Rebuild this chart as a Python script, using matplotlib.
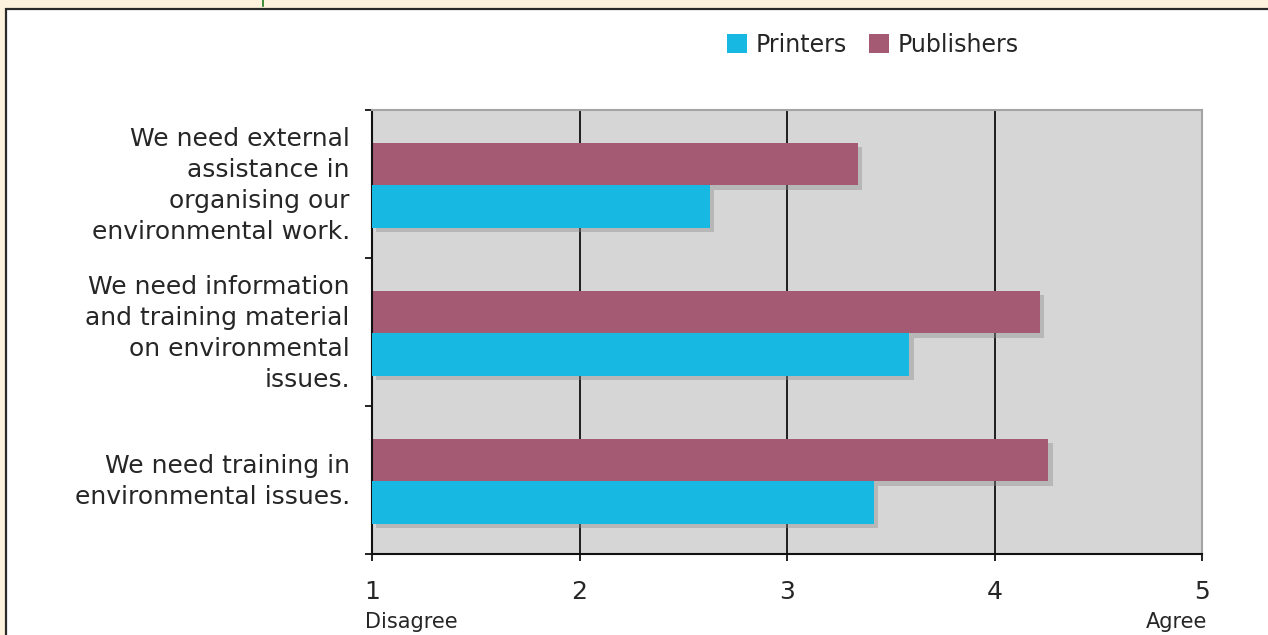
import numpy as np
import matplotlib
matplotlib.use("Agg")
import matplotlib.pyplot as plt
import matplotlib.patheffects as pe
import matplotlib.transforms as mtransforms
from matplotlib.patches import Rectangle, Patch
from matplotlib.lines import Line2D

plt.rcParams["font.family"] = ["DejaVu Sans"]

# Survey statements (top to bottom) and mean agreement scores
statements = [
    "We need external\nassistance in\norganising our\nenvironmental work.",
    "We need information\nand training material\non environmental\nissues.",
    "We need training in\nenvironmental issues.",
]
printers = [2.63, 3.59, 3.42]
publishers = [3.34, 4.22, 4.26]
series_names = ["Printers", "Publishers"]
scale_ticks = [1, 2, 3, 4, 5]
scale_ends = ["Disagree", "Agree"]

CYAN = "#17b8e2"
MAUVE = "#a55a74"
TEXT = "#262626"

W, H = 1268, 635
fig = plt.figure(figsize=(W / 100, H / 100), dpi=100, facecolor="#fdf2de")

# white panel with dark frame
fig.patches.append(Rectangle((6 / W, -0.2), 1.2, (H - 9) / H + 0.2,
                             transform=fig.transFigure, facecolor="white",
                             edgecolor="#2b2b2b", lw=1.6, zorder=-5))
fig.lines.append(Line2D([263 / W, 263 / W], [1, 1 - 6 / H],
                        transform=fig.transFigure, color="#1f7a1f", lw=1.2,
                        zorder=-4))

ax = fig.add_axes([372 / W, (H - 554) / H, (1202 - 372) / W, (554 - 110) / H])
ax.set_zorder(2)
ax.set_facecolor("#d6d6d6")

y = np.arange(len(statements)) + 0.5
h = 0.285
start = scale_ticks[0]

shadow = [pe.SimplePatchShadow(offset=(3, -3), shadow_rgbFace="#8a8a8a", alpha=0.4),
          pe.Normal()]

# inner vertical grid lines
for t in scale_ticks[1:-1]:
    ax.axvline(t, color="#1e1e1e", lw=1.4, zorder=1)

ax.barh(y - h / 2 + 0.01, np.array(publishers) - start, left=start, height=h,
        color=MAUVE, zorder=2, path_effects=shadow)
ax.barh(y + h / 2 + 0.01, np.array(printers) - start, left=start, height=h,
        color=CYAN, zorder=3, path_effects=shadow)

ax.set_xlim(scale_ticks[0], scale_ticks[-1])
ax.set_ylim(len(statements), 0)

# spines
for side in ("left", "bottom"):
    ax.spines[side].set_color("#111111")
    ax.spines[side].set_linewidth(1.5)
for side in ("top", "right"):
    ax.spines[side].set_color("#a4a4a4")
    ax.spines[side].set_linewidth(1.5)

# x axis
ax.set_xticks(scale_ticks)
ax.set_xticklabels([str(t) for t in scale_ticks])
ax.tick_params(axis="x", length=5, width=1.3, color="#111111", pad=14,
               labelsize=18, labelcolor=TEXT)

# y axis: boundary ticks, labels at category centres
ax.set_yticks(np.arange(len(statements) + 1))
ax.tick_params(axis="y", which="major", length=5, width=1.3, color="#111111",
               labelleft=False)
ax.set_yticks(y - 0.03, minor=True)
ax.set_yticklabels(statements, minor=True)
ax.tick_params(axis="y", which="minor", length=0, pad=16, labelsize=18,
               labelcolor=TEXT)
for lab in ax.get_yticklabels(minor=True):
    lab.set_multialignment("right")
    lab.set_linespacing(1.36)

# scale end captions
trans = mtransforms.blended_transform_factory(ax.transData, ax.transAxes)
ax.text(scale_ticks[0], -74 / 444, scale_ends[0], ha="left", va="baseline",
        fontsize=15, color=TEXT,
        transform=mtransforms.offset_copy(trans, fig=fig, x=-5, y=0, units="points"))
ax.text(scale_ticks[-1], -74 / 444, scale_ends[1], ha="right", va="baseline",
        fontsize=15, color=TEXT,
        transform=mtransforms.offset_copy(trans, fig=fig, x=4, y=0, units="points"))

# legend
handles = [Patch(facecolor=CYAN, edgecolor="none"),
           Patch(facecolor=MAUVE, edgecolor="none")]
fig.legend(handles, series_names, loc="center", ncol=2,
           bbox_to_anchor=(873 / W, 1 - 45 / H), frameon=False, fontsize=17,
           handlelength=0.85, handleheight=0.85, handletextpad=0.35,
           columnspacing=0.95, labelcolor=TEXT)

fig.savefig("out.png", dpi=100, facecolor=fig.get_facecolor())
